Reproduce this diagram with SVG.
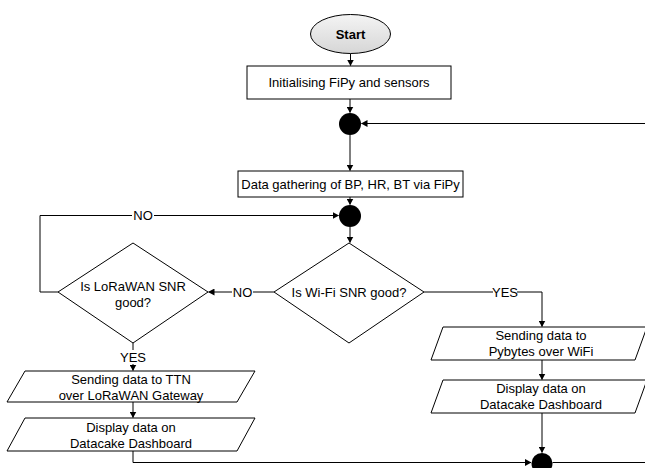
<svg xmlns="http://www.w3.org/2000/svg" width="645" height="468" viewBox="0 0 645 468">
<style>
.shape{fill:#fff;stroke:#000;stroke-width:1}
.dot{fill:#000;stroke:none}
.ln{fill:none;stroke:#000;stroke-width:1}
text{font-family:"Liberation Sans",Arial,sans-serif;font-size:13px;fill:#000;text-anchor:middle;dominant-baseline:central}
.bold{font-weight:bold}
</style>
<defs>
<linearGradient id="g" x1="0" y1="0" x2="0" y2="1">
<stop offset="0" stop-color="#f4f4f4"/>
<stop offset="1" stop-color="#d6d6d6"/>
</linearGradient>
<marker id="ah" markerWidth="7" markerHeight="7" refX="6" refY="3.5" orient="auto" markerUnits="userSpaceOnUse">
<path d="M0,0 L6.5,3.5 L0,7 Z" fill="#000"/>
</marker>
</defs>
<rect width="645" height="468" fill="#fff"/>
<g id="connectors">
<path class="ln" d="M350.5,53.5 V65.5" marker-end="url(#ah)"/>
<path class="ln" d="M350,99 V112.5" marker-end="url(#ah)"/>
<path class="ln" d="M645,123.5 H361.5" marker-end="url(#ah)"/>
<path class="ln" d="M350,135 V170.5" marker-end="url(#ah)"/>
<path class="ln" d="M350,197 V204.5" marker-end="url(#ah)"/>
<path class="ln" d="M58,292 H40 V215.5 H132"/>
<path class="ln" d="M154,215.5 H338.5" marker-end="url(#ah)"/>
<path class="ln" d="M350,227 V242.5" marker-end="url(#ah)"/>
<path class="ln" d="M274,292 H253"/>
<path class="ln" d="M232,292 H208.5" marker-end="url(#ah)"/>
<path class="ln" d="M133,343 V350"/>
<path class="ln" d="M133,364 V370.5" marker-end="url(#ah)"/>
<path class="ln" d="M133,402 V417.5" marker-end="url(#ah)"/>
<path class="ln" d="M133,451 V462.5 H531" marker-end="url(#ah)"/>
<path class="ln" d="M552.5,462.5 H645"/>
<path class="ln" d="M424,292 H493"/>
<path class="ln" d="M517,292 H542 V326.5" marker-end="url(#ah)"/>
<path class="ln" d="M542,360 V379.5" marker-end="url(#ah)"/>
<path class="ln" d="M542,413 V452.5" marker-end="url(#ah)"/>
<text x="143" y="215.5">NO</text>
<text x="242.5" y="292">NO</text>
<text x="133" y="357">YES</text>
<text x="505" y="292">YES</text>
</g>
<g id="start">
<ellipse cx="350.5" cy="34" rx="40" ry="19.5" fill="url(#g)" stroke="#000" stroke-width="1"/>
<text class="bold" x="350.5" y="34">Start</text>
</g>
<g id="init">
<rect class="shape" x="247" y="66" width="204" height="33"/>
<text x="349" y="82.5">Initialising FiPy and sensors</text>
</g>
<g id="merge1"><circle class="dot" cx="350" cy="124" r="11"/></g>
<g id="gather">
<rect class="shape" x="238" y="171" width="225" height="26"/>
<text x="350.5" y="184">Data gathering of BP, HR, BT via FiPy</text>
</g>
<g id="merge2"><circle class="dot" cx="350" cy="216" r="11"/></g>
<g id="wifi">
<polygon class="shape" points="349,243 424,292 349,343 274,292"/>
<text x="349" y="292">Is Wi-Fi SNR good?</text>
</g>
<g id="lora">
<polygon class="shape" points="133,243 208,292 133,343 58,292"/>
<text x="133" y="286">Is LoRaWAN SNR</text>
<text x="133" y="302">good?</text>
</g>
<g id="sendTTN">
<polygon class="shape" points="25,371 255,371 237,402 7,402"/>
<text x="131" y="379">Sending data to TTN</text>
<text x="131" y="395">over LoRaWAN Gateway</text>
</g>
<g id="displayLora">
<polygon class="shape" points="25,418 255,418 237,451 7,451"/>
<text x="131" y="427">Display data on</text>
<text x="131" y="443">Datacake Dashboard</text>
</g>
<g id="sendPybytes">
<polygon class="shape" points="443,327 647,327 635,360 431,360"/>
<text x="541" y="335.5">Sending data to</text>
<text x="541" y="351.5">Pybytes over WiFi</text>
</g>
<g id="displayWifi">
<polygon class="shape" points="443,380 647,380 635,413 431,413"/>
<text x="541" y="388.5">Display data on</text>
<text x="541" y="404.5">Datacake Dashboard</text>
</g>
<g id="merge3"><circle class="dot" cx="542" cy="463.5" r="10.5"/></g>
</svg>
